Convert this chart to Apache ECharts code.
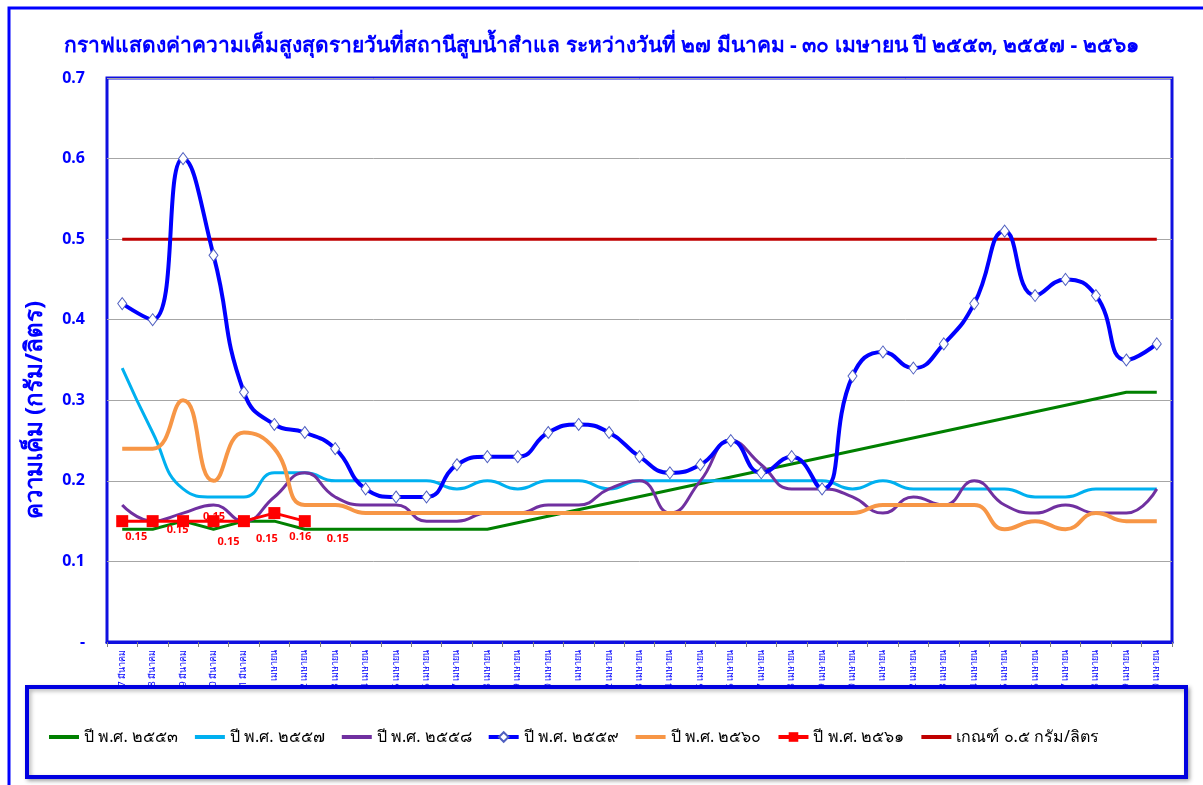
<!DOCTYPE html>
<html>
<head>
<meta charset="utf-8">
<script src="https://cdn.jsdelivr.net/npm/echarts@6/dist/echarts.min.js"></script>
<style>html,body{margin:0;padding:0;background:#fff;}#c{width:1203px;height:785px;}</style>
</head>
<body>
<div id="c"></div>
<script>
const categories = [
  "27 มีนาคม","28 มีนาคม","29 มีนาคม","30 มีนาคม","31 มีนาคม",
  "1 เมษายน","2 เมษายน","3 เมษายน","4 เมษายน","5 เมษายน","6 เมษายน","7 เมษายน","8 เมษายน","9 เมษายน","10 เมษายน",
  "11 เมษายน","12 เมษายน","13 เมษายน","14 เมษายน","15 เมษายน","16 เมษายน","17 เมษายน","18 เมษายน","19 เมษายน","20 เมษายน",
  "21 เมษายน","22 เมษายน","23 เมษายน","24 เมษายน","25 เมษายน","26 เมษายน","27 เมษายน","28 เมษายน","29 เมษายน","30 เมษายน"
];
const y2553 = [0.14,0.14,0.15,0.14,0.15,0.15,0.14,0.14,0.14,0.14,0.14,0.14,0.14,null,null,null,null,null,null,null,null,null,null,null,null,null,null,null,null,null,null,null,null,0.31,0.31];
const y2557 = [0.34,0.26,0.19,0.18,0.18,0.21,0.21,0.20,0.20,0.20,0.20,0.19,0.20,0.19,0.20,0.20,0.19,0.20,0.20,0.20,0.20,0.20,0.20,0.20,0.19,0.20,0.19,0.19,0.19,0.19,0.18,0.18,0.19,0.19,0.19];
const y2558 = [0.17,0.15,0.16,0.17,0.15,0.18,0.21,0.18,0.17,0.17,0.15,0.15,0.16,0.16,0.17,0.17,0.19,0.20,0.16,0.20,0.25,0.22,0.19,0.19,0.18,0.16,0.18,0.17,0.20,0.17,0.16,0.17,0.16,0.16,0.19];
const y2559 = [0.42,0.40,0.60,0.48,0.31,0.27,0.26,0.24,0.19,0.18,0.18,0.22,0.23,0.23,0.26,0.27,0.26,0.23,0.21,0.22,0.25,0.21,0.23,0.19,0.33,0.36,0.34,0.37,0.42,0.51,0.43,0.45,0.43,0.35,0.37];
const y2560 = [0.24,0.24,0.30,0.20,0.26,0.24,0.17,0.17,0.16,0.16,0.16,0.16,0.16,0.16,0.16,0.16,0.16,0.16,0.16,0.16,0.16,0.16,0.16,0.16,0.16,0.17,0.17,0.17,0.17,0.14,0.15,0.14,0.16,0.15,0.15];
const y2561 = [0.15,0.15,0.15,0.15,0.15,0.16,0.15];
const threshold = [0.5,0.5,0.5,0.5,0.5,0.5,0.5,0.5,0.5,0.5,0.5,0.5,0.5,0.5,0.5,0.5,0.5,0.5,0.5,0.5,0.5,0.5,0.5,0.5,0.5,0.5,0.5,0.5,0.5,0.5,0.5,0.5,0.5,0.5,0.5];
const yTickLabels = {"0":"-","0.1":"0.1","0.2":"0.2","0.3":"0.3","0.4":"0.4","0.5":"0.5","0.6":"0.6","0.7":"0.7"};
const seriesNames = ["ปี พ.ศ. ๒๕๕๓","ปี พ.ศ. ๒๕๕๗","ปี พ.ศ. ๒๕๕๘","ปี พ.ศ. ๒๕๕๙","ปี พ.ศ. ๒๕๖๐","ปี พ.ศ. ๒๕๖๑","เกณฑ์ ๐.๕ กรัม/ลิตร"];

// label offsets for the 2561 data labels (style only)
const redLabelOffsets = [[14,16],[25,9],[31,-4],[15,21],[23,18],[26,24],[33,18]];

const FONT = "Tahoma, 'Noto Sans', 'DejaVu Sans', sans-serif";
const chart = echarts.init(document.getElementById('c'));

function plainLegend(name, color) {
  return {name: name, itemStyle: {opacity: 0}, lineStyle: {color: color, width: 4}};
}

const option = {
  backgroundColor: '#ffffff',
  animation: false,
  textStyle: {fontFamily: FONT},
  title: {
    text: "กราฟแสดงค่าความเค็มสูงสุดรายวันที่สถานีสูบน้ำสำแล ระหว่างวันที่ ๒๗ มีนาคม - ๓๐ เมษายน ปี ๒๕๕๓, ๒๕๕๗ - ๒๕๖๑",
    left: 'center', top: 31,
    textStyle: {color: '#0000ff', fontSize: 21, fontWeight: 'bold', fontFamily: FONT}
  },
  grid: {left: 107, top: 78, right: 31, bottom: 143, show: true, borderColor: '#1010e0', borderWidth: 3, backgroundColor: 'transparent'},
  legend: {
    left: 42, top: 724, z: 60,
    itemWidth: 30, itemHeight: 12, itemGap: 15,
    textStyle: {color: '#000', fontSize: 16, fontFamily: FONT},
    data: [
      plainLegend(seriesNames[0], '#008000'),
      plainLegend(seriesNames[1], '#00b0f0'),
      plainLegend(seriesNames[2], '#7030a0'),
      {name: seriesNames[3], lineStyle: {color: '#0000ff', width: 4}},
      plainLegend(seriesNames[4], '#f79646'),
      {name: seriesNames[5], lineStyle: {color: '#ff0000', width: 4}},
      plainLegend(seriesNames[6], '#c00000')
    ]
  },
  graphic: [
    {type: 'rect', z: 0, shape: {x: 9, y: 8, width: 1300, height: 900}, style: {fill: 'none', stroke: '#0000ff', lineWidth: 3}},
    {type: 'rect', z: 50, shape: {x: 27, y: 687, width: 1159, height: 90}, style: {fill: '#ffffff', stroke: '#0000e0', lineWidth: 4, shadowBlur: 4, shadowColor: 'rgba(0,0,0,0.3)', shadowOffsetX: 2, shadowOffsetY: 2}},
    {type: 'text', z: 50, x: 35, y: 410, rotation: Math.PI/2, style: {text: 'ความเค็ม (กรัม/ลิตร)', fill: '#0000ff', font: "bold 24px " + FONT, align: 'center', verticalAlign: 'middle'}}
  ],
  xAxis: {
    type: 'category', data: categories, boundaryGap: true,
    axisLine: {show: true, lineStyle: {color: '#1010e0', width: 3}},
    axisTick: {show: true, inside: false, length: 5, lineStyle: {color: '#808080'}},
    axisLabel: {rotate: 90, interval: 0, color: '#0000ff', fontSize: 9, margin: 8, fontFamily: FONT},
    splitLine: {show: false}
  },
  yAxis: {
    type: 'value', min: 0, max: 0.7, interval: 0.1,
    axisLine: {show: false}, axisTick: {show: false},
    axisLabel: {color: '#0000ff', fontSize: 16, fontWeight: 'bold', margin: 22, fontFamily: FONT,
      formatter: function(v){ const k = String(Math.round(v*10)/10); return yTickLabels[k] !== undefined ? yTickLabels[k] : k; }},
    splitLine: {show: true, lineStyle: {color: '#a6a6a6', width: 1}}
  },
  series: [
    {name: seriesNames[0], type: 'line', data: y2553, smooth: false, connectNulls: true, showSymbol: false, symbol: 'none',
      lineStyle: {color: '#008000', width: 3}, itemStyle: {color: '#008000'}, z: 3},
    {name: seriesNames[1], type: 'line', data: y2557, smooth: true, showSymbol: false, symbol: 'none',
      lineStyle: {color: '#00b0f0', width: 3}, itemStyle: {color: '#00b0f0'}, z: 3},
    {name: seriesNames[2], type: 'line', data: y2558, smooth: true, showSymbol: false, symbol: 'none',
      lineStyle: {color: '#7030a0', width: 3}, itemStyle: {color: '#7030a0'}, z: 3},
    {name: seriesNames[3], type: 'line', data: y2559, smooth: true, symbol: 'diamond', symbolSize: [9, 12], showSymbol: true,
      lineStyle: {color: '#0000ff', width: 4}, itemStyle: {color: '#ffffff', borderColor: '#5060c0', borderWidth: 1}, z: 5},
    {name: seriesNames[4], type: 'line', data: y2560, smooth: true, showSymbol: false, symbol: 'none',
      lineStyle: {color: '#f79646', width: 4}, itemStyle: {color: '#f79646'}, z: 4},
    {name: seriesNames[5], type: 'line', smooth: false, symbol: 'rect', symbolSize: 12,
      data: y2561.map(function(v, i){ return {value: v, label: {offset: redLabelOffsets[i]}}; }),
      lineStyle: {color: '#ff0000', width: 3}, itemStyle: {color: '#ff0000'}, z: 6,
      label: {show: true, position: 'inside', color: '#ff0000', fontSize: 11, fontWeight: 'bold', fontFamily: FONT,
        formatter: function(p){ return p.value.toFixed(2); }}},
    {name: seriesNames[6], type: 'line', data: threshold, smooth: false, showSymbol: false, symbol: 'none',
      lineStyle: {color: '#c00000', width: 3}, itemStyle: {color: '#c00000'}, z: 4}
  ]
};
chart.setOption(option);
</script>
</body>
</html>
